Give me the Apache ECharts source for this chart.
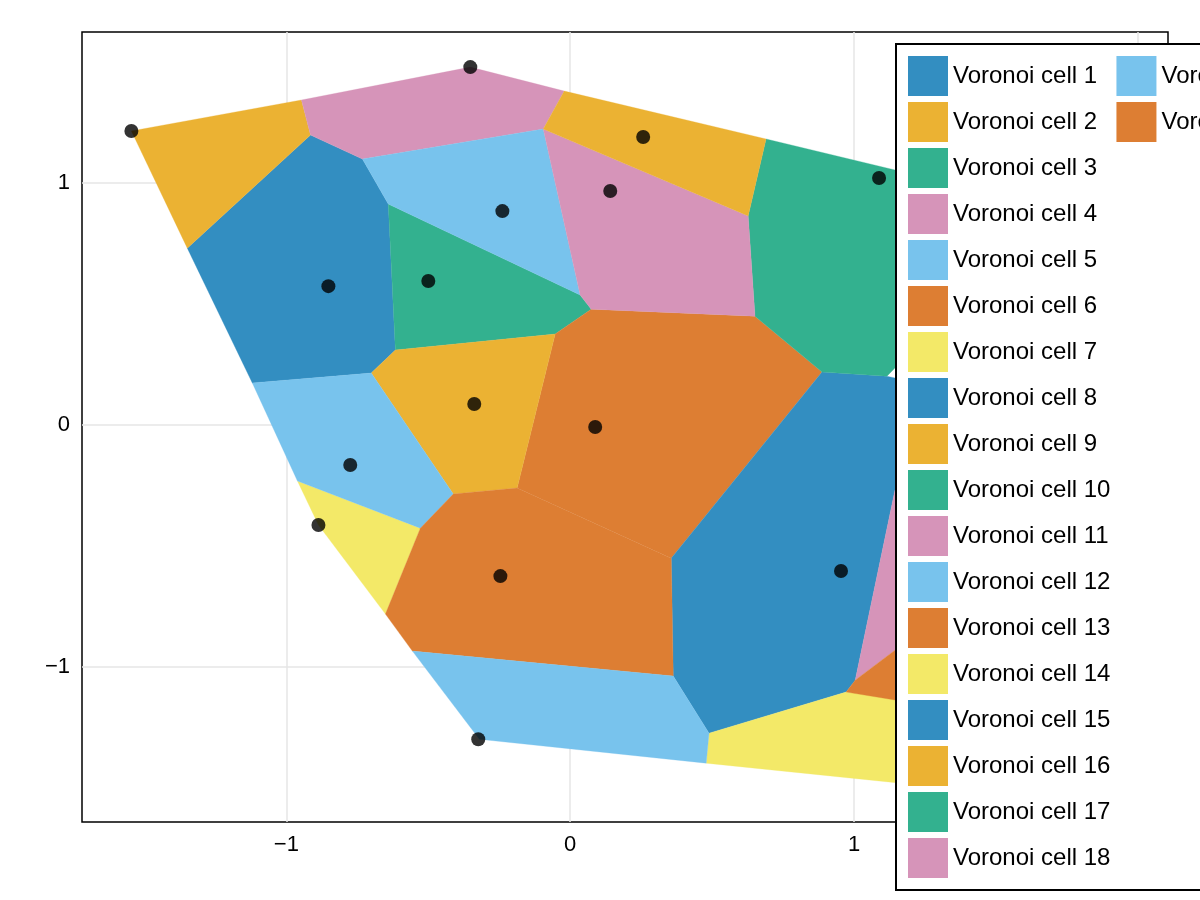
<!DOCTYPE html>
<html>
<head>
<meta charset="utf-8">
<script src="https://cdn.jsdelivr.net/npm/echarts@6/dist/echarts.min.js"></script>
<style>html,body{margin:0;padding:0;background:#fff}#main{width:1200px;height:900px}</style>
</head>
<body>
<div id="main"></div>
<script>
const palette = ['#338EC1','#EBB233','#33B18F','#D694B9','#78C3ED','#DD7E33','#F3E968'];

// seed points of the diagram
const seedsX = [-1.546,-0.352,0.257,0.141,-0.239,-0.500,-0.852,1.088,-0.338,0.088,-0.775,-0.887,-0.246,-0.324,0.954];
const seedsY = [1.215,1.479,1.190,0.967,0.884,0.595,0.574,1.021,0.087,-0.008,-0.165,-0.413,-0.624,-1.298,-0.603];

// polygon vertices of each cell (data units)
const cells = [
  [[-0.915,1.198],[-0.732,1.099],[-0.641,0.913],[-0.616,0.310],[-0.701,0.215],[-1.120,0.174],[-1.349,0.731]],
  [[-1.546,1.215],[-0.947,1.343],[-0.915,1.198],[-1.349,0.731]],
  [[-0.641,0.913],[0.035,0.537],[0.074,0.479],[-0.053,0.376],[-0.616,0.310]],
  [[-0.947,1.343],[-0.352,1.479],[-0.021,1.380],[-0.095,1.223],[-0.732,1.099],[-0.915,1.198]],
  [[-0.732,1.099],[-0.095,1.223],[0.035,0.537],[-0.641,0.913]],
  [[0.074,0.479],[0.651,0.450],[0.887,0.219],[0.356,-0.550],[-0.187,-0.260],[-0.053,0.376]],
  [[-0.961,-0.231],[-0.528,-0.426],[-0.651,-0.781],[-0.887,-0.413]],
  [[0.887,0.219],[1.116,0.202],[1.20,0.18],[1.20,0.0],[1.144,-0.269],[1.004,-1.054],[0.972,-1.103],[0.489,-1.273],[0.363,-1.037],[0.356,-0.550]],
  [[-0.616,0.310],[-0.053,0.376],[-0.187,-0.260],[-0.412,-0.285],[-0.701,0.215]],
  [[0.690,1.182],[1.144,1.054],[1.25,1.03],[1.25,0.25],[1.144,0.236],[1.116,0.202],[0.887,0.219],[0.651,0.450],[0.627,0.864]],
  [[-0.095,1.223],[0.627,0.864],[0.651,0.450],[0.074,0.479],[0.035,0.537]],
  [[-1.120,0.174],[-0.701,0.215],[-0.412,-0.285],[-0.528,-0.426],[-0.961,-0.231]],
  [[-0.528,-0.426],[-0.412,-0.285],[-0.187,-0.260],[0.356,-0.550],[0.363,-1.037],[-0.556,-0.934],[-0.651,-0.781]],
  [[0.489,-1.273],[0.972,-1.103],[1.25,-1.14],[1.25,-1.49],[0.479,-1.397]],
  [[1.25,0.25],[1.6,0.4],[1.6,-0.3],[1.25,-0.1]],
  [[-0.021,1.380],[0.690,1.182],[0.627,0.864],[-0.095,1.223]],
  [[1.3,1.0],[1.7,0.9],[1.7,0.4],[1.3,0.4]],
  [[1.144,-0.269],[1.25,-0.3],[1.25,-0.9],[1.144,-0.930],[1.004,-1.054]],
  [[-0.556,-0.934],[0.363,-1.037],[0.489,-1.273],[0.479,-1.397],[-0.320,-1.298]],
  [[1.144,-0.930],[1.25,-0.9],[1.25,-1.14],[1.144,-1.136],[0.972,-1.103],[1.004,-1.054]]
];

const tickValues = [-1, 0, 1, 2];
const yTickValues = [-1, 0, 1];
const fmt = v => String(v).replace('-', '\u2212');

const chart = echarts.init(document.getElementById('main'));
const cellSeries = cells.map((poly, i) => ({
  name: 'Voronoi cell ' + (i + 1),
  type: 'custom',
  z: 2,
  itemStyle: { color: palette[i % palette.length] },
  data: [0],
  renderItem: (params, api) => ({
    type: 'polygon',
    shape: { points: poly.map(p => api.coord(p)) },
    style: { fill: palette[i % palette.length], stroke: palette[i % palette.length], lineWidth: 0.3 }
  })
}));

chart.setOption({
  animation: false,
  textStyle: { fontFamily: 'Liberation Sans, Arial, sans-serif' },
  grid: { left: 82, right: 32, top: 32, bottom: 78, show: true, borderColor: '#000', borderWidth: 1.5 },
  xAxis: {
    type: 'value', min: -1.72, max: 2.106,
    axisLine: { show: false },
    axisTick: { show: true, customValues: tickValues, length: 6, lineStyle: { color: '#000' } },
    axisLabel: { customValues: tickValues, formatter: fmt, fontSize: 22, color: '#000', margin: 12 },
    splitLine: { show: true, lineStyle: { color: '#e6e6e6', width: 1.5 } }
  },
  yAxis: {
    type: 'value', min: -1.64, max: 1.624,
    axisLine: { show: false },
    axisTick: { show: true, customValues: yTickValues, length: 6, lineStyle: { color: '#000' } },
    axisLabel: { customValues: yTickValues, formatter: fmt, fontSize: 22, color: '#000', margin: 12 },
    splitLine: { show: true, lineStyle: { color: '#e6e6e6', width: 1.5 } }
  },
  legend: {
    orient: 'vertical', left: 896, top: 44,
    backgroundColor: '#fff', borderColor: '#000', borderWidth: 2,
    padding: [12, 14, 12, 12],
    itemWidth: 40, itemHeight: 40, itemGap: 6,
    icon: 'rect',
    textStyle: { fontSize: 24, color: '#000' },
    data: cells.map((c, i) => 'Voronoi cell ' + (i + 1)),
    z: 10
  },
  series: cellSeries.concat([{
    type: 'scatter', z: 3, symbolSize: 14,
    itemStyle: { color: '#000' },
    data: seedsX.map((x, i) => [x, seedsY[i]])
  }])
});
</script>
</body>
</html>
